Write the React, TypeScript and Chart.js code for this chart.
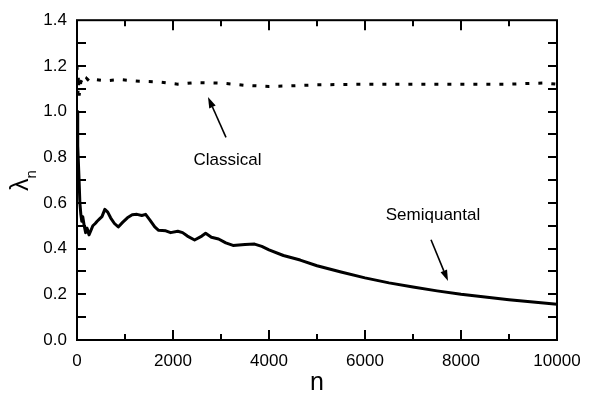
import React, { useEffect, useRef } from 'react';
import { Chart, registerables } from 'chart.js';

Chart.register(...registerables);

// Semiquantal Lyapunov estimate λ_n versus iteration n
const semiN = [
  0, 10, 20, 40, 60, 80, 100, 120, 150, 180, 210, 250, 290, 330, 380, 420, 470, 520,
  580, 640, 700, 780, 860, 950, 1050, 1150, 1250, 1350, 1430, 1520, 1620, 1700, 1850,
  1950, 2100, 2200, 2300, 2450, 2600, 2680, 2800, 2950, 3100, 3250, 3500, 3700, 3850,
  4000, 4300, 4650, 5000, 5500, 6000, 6500, 7000, 7500, 8000, 8500, 9000, 9500, 10000,
];
const semiLambda = [
  1.0, 0.95, 0.85, 0.72, 0.6, 0.55, 0.52, 0.54, 0.5, 0.47, 0.49, 0.46, 0.48, 0.5, 0.51,
  0.52, 0.53, 0.54, 0.572, 0.56, 0.535, 0.51, 0.495, 0.515, 0.535, 0.548, 0.55, 0.545,
  0.55, 0.525, 0.495, 0.48, 0.478, 0.47, 0.476, 0.47, 0.455, 0.438, 0.455, 0.467, 0.45,
  0.442, 0.425, 0.414, 0.418, 0.42, 0.41, 0.395, 0.37, 0.35, 0.325, 0.298, 0.272, 0.25,
  0.232, 0.215, 0.2, 0.188, 0.176, 0.166, 0.156,
];

// Classical Lyapunov estimate λ_n versus iteration n
const classicalN = [
  0, 10, 20, 30, 45, 60, 80, 110, 150, 200, 250, 320, 400, 600, 900, 1300, 1700, 2100,
  2500, 3000, 3500, 4000, 4500, 5000, 6000, 7000, 8000, 9000, 9700, 10000,
];
const classicalLambda = [
  1.2, 1.12, 1.08, 1.16, 1.07, 1.1, 1.13, 1.14, 1.125, 1.145, 1.135, 1.145, 1.14, 1.135,
  1.14, 1.133, 1.13, 1.12, 1.127, 1.125, 1.115, 1.11, 1.113, 1.117, 1.12, 1.12, 1.12,
  1.12, 1.125, 1.12,
];

const xMin = 0;
const xMax = 10000;
const xMajorStep = 2000;
const xMinorStep = 1000;
const yMin = 0;
const yMax = 1.4;
const yMajorStep = 0.2;
const yMinorStep = 0.1;

// Annotations: label text with an arrow, in data coordinates
const labels = [
  { text: 'Classical', n: 3135, v: 0.788, arrowFrom: [3104, 0.887], arrowTo: [2729, 1.064] },
  { text: 'Semiquantal', n: 7417, v: 0.547, arrowFrom: [7375, 0.439], arrowTo: [7729, 0.258] },
];

const FONT = '"Liberation Sans", Arial, Helvetica, sans-serif';

const framePlugin = {
  id: 'frameAndNotes',
  afterDraw(chart: any) {
    const { ctx, chartArea: a, scales } = chart;
    const x = scales.x;
    const y = scales.y;
    ctx.save();
    ctx.strokeStyle = '#000';
    ctx.fillStyle = '#000';
    ctx.lineWidth = 2;
    ctx.lineCap = 'butt';
    ctx.strokeRect(a.left, a.top, a.right - a.left, a.bottom - a.top);

    // inward ticks on all four sides
    ctx.beginPath();
    for (let v = xMin + xMinorStep; v < xMax; v += xMinorStep) {
      const px = Math.round(x.getPixelForValue(v));
      const len = v % xMajorStep === 0 ? 10 : 6;
      ctx.moveTo(px, a.bottom);
      ctx.lineTo(px, a.bottom - len);
      ctx.moveTo(px, a.top);
      ctx.lineTo(px, a.top + len);
    }
    for (let i = 1; i * yMinorStep < yMax - 1e-9; i++) {
      const py = Math.round(y.getPixelForValue(i * yMinorStep));
      ctx.moveTo(a.left, py);
      ctx.lineTo(a.left + 9, py);
      ctx.moveTo(a.right, py);
      ctx.lineTo(a.right - 9, py);
    }
    ctx.stroke();

    // annotations
    ctx.font = `17px ${FONT}`;
    ctx.textAlign = 'center';
    ctx.textBaseline = 'middle';
    ctx.lineWidth = 1.6;
    for (const l of labels) {
      ctx.fillText(l.text, x.getPixelForValue(l.n), y.getPixelForValue(l.v));
      const x0 = x.getPixelForValue(l.arrowFrom[0]);
      const y0 = y.getPixelForValue(l.arrowFrom[1]);
      const x1 = x.getPixelForValue(l.arrowTo[0]);
      const y1 = y.getPixelForValue(l.arrowTo[1]);
      const ang = Math.atan2(y1 - y0, x1 - x0);
      const headLen = 11;
      const headW = 3.5;
      const bx = x1 - headLen * Math.cos(ang);
      const by = y1 - headLen * Math.sin(ang);
      ctx.beginPath();
      ctx.moveTo(x0, y0);
      ctx.lineTo(bx, by);
      ctx.stroke();
      ctx.beginPath();
      ctx.moveTo(x1, y1);
      ctx.lineTo(bx + headW * Math.sin(ang), by - headW * Math.cos(ang));
      ctx.lineTo(bx - headW * Math.sin(ang), by + headW * Math.cos(ang));
      ctx.closePath();
      ctx.fill();
    }

    // y-axis title: λ with subscript n, rotated
    ctx.translate(21, 191);
    ctx.rotate(-Math.PI / 2);
    ctx.textAlign = 'left';
    ctx.textBaseline = 'alphabetic';
    ctx.font = `25px ${FONT}`;
    ctx.fillText('λ', 0, 7);
    const w = ctx.measureText('λ').width;
    ctx.font = `15px ${FONT}`;
    ctx.fillText('n', w, 15);
    ctx.restore();
  },
};

export default function App() {
  const canvasRef = useRef<HTMLCanvasElement | null>(null);

  useEffect(() => {
    const canvas = canvasRef.current;
    if (!canvas) return;
    const chart = new Chart(canvas, {
      type: 'line',
      data: {
        datasets: [
          {
            label: 'Classical',
            data: classicalN.map((n, i) => ({ x: n, y: classicalLambda[i] })),
            borderColor: '#000',
            borderWidth: 3,
            borderDash: [4, 9],
            pointRadius: 0,
            tension: 0,
            fill: false,
          },
          {
            label: 'Semiquantal',
            data: semiN.map((n, i) => ({ x: n, y: semiLambda[i] })),
            borderColor: '#000',
            borderWidth: 3,
            pointRadius: 0,
            tension: 0,
            fill: false,
            borderJoinStyle: 'round',
          },
        ],
      },
      options: {
        animation: false,
        responsive: false,
        maintainAspectRatio: false,
        events: [],
        layout: { padding: { top: 15, right: 45, left: 0, bottom: 0 } },
        plugins: { legend: { display: false }, tooltip: { enabled: false } },
        scales: {
          x: {
            type: 'linear',
            min: xMin,
            max: xMax,
            grid: { display: false, drawTicks: false },
            border: { display: false },
            ticks: {
              stepSize: xMajorStep,
              color: '#000',
              padding: 11,
              maxRotation: 0,
              font: { family: FONT, size: 17 },
              callback: (v: any) => String(v),
            },
            title: {
              display: true,
              text: 'n',
              color: '#000',
              font: { family: FONT, size: 25 },
              padding: { top: 0, bottom: -2 },
            },
            afterFit: (s: any) => {
              s.height = 56;
            },
          },
          y: {
            min: yMin,
            max: yMax,
            grid: { display: false, drawTicks: false },
            border: { display: false },
            ticks: {
              stepSize: yMajorStep,
              color: '#000',
              padding: 10,
              font: { family: FONT, size: 17 },
              callback: (v: any) => Number(v).toFixed(1),
            },
            afterFit: (s: any) => {
              s.width = 77;
            },
          },
        },
      },
      plugins: [framePlugin],
    });
    return () => chart.destroy();
  }, []);

  return (
    <div style={{ position: 'fixed', left: 0, top: 0, width: 602, height: 396, background: '#fff' }}>
      <canvas ref={canvasRef} width={602} height={396} style={{ display: 'block' }} />
    </div>
  );
}
